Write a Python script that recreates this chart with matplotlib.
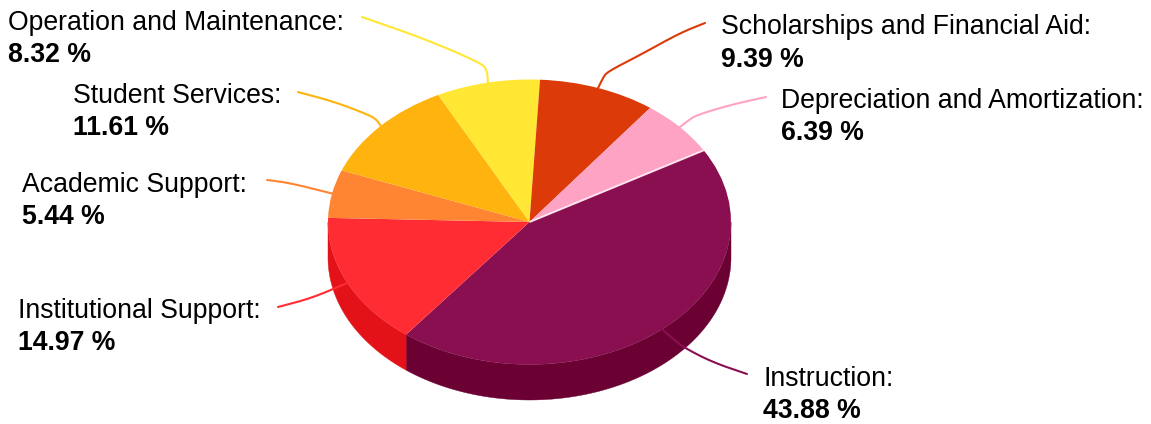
import numpy as np
import matplotlib
matplotlib.use("Agg")
import matplotlib.pyplot as plt
from matplotlib.transforms import Affine2D

categories = ["Instruction", "Institutional Support", "Academic Support", "Student Services",
              "Operation and Maintenance", "Scholarships and Financial Aid", "Depreciation and Amortization"]
values = [43.88, 14.97, 5.44, 11.61, 8.32, 9.39, 6.39]
top_colors = ["#8a0f50", "#ff2d33", "#ff8533", "#ffb30f", "#ffe733", "#dc3a09", "#ffa3c4"]
side_colors = ["#6b0033", "#e31218", "#e06a20", "#e09a00", "#e0c820", "#c03000", "#e08aa8"]
line_colors = ["#8a0f50", "#ff2d33", "#ff8533", "#ffb30f", "#ffe733", "#dc3a09", "#ffa3c4"]

W, H = 1151, 424
CX, CY, RX, RY, DEPTH = 529.5, 222.0, 201.5, 142.5, 35.5
START = 30.2

# label layout in pixels: x, first baseline, second baseline
label_pos = [(763, 386, 418), (18, 318, 350), (22, 192, 224), (73, 103, 135),
             (8, 30, 62), (721, 34, 67), (781, 108, 140)]
# leader waypoints in pixels, from the label outward to the pie
leaders = [
    [(747, 374), (712, 362), (683, 347), (672, 338)],
    [(278, 307), (312, 298), (347, 283)],
    [(267, 180), (290, 183)],
    [(298, 92), (335, 102), (369, 115), (377, 120)],
    [(362, 17), (425, 39), (481, 63), (487, 70)],
    [(705, 23), (680, 33), (640, 55), (607, 72), (603, 78)],
    [(766, 97), (730, 105), (697, 115), (689, 120)],
]


def smooth(points, rounds=2):
    pts = np.asarray(points, float)
    for _ in range(rounds):
        q = 0.75 * pts[:-1] + 0.25 * pts[1:]
        r = 0.25 * pts[:-1] + 0.75 * pts[1:]
        mid = np.empty((2 * len(q), 2))
        mid[0::2], mid[1::2] = q, r
        pts = np.vstack([pts[0], mid, pts[-1]])
    return pts


fig = plt.figure(figsize=(W / 100, H / 100), dpi=100)
ax = fig.add_axes([0, 0, 1, 1])
plt.rcParams["font.family"] = "Liberation Sans"
px = Affine2D().scale(1, -1).translate(0, H)

wedges, _ = ax.pie(values, colors=top_colors, startangle=START, counterclock=False, radius=1.0)
for w in wedges:
    w.set_zorder(5)
ax.set_aspect("auto")
ax.set_xlim(-CX / RX, (W - CX) / RX)
ax.set_ylim((CY - H) / RY, CY / RY)
ax.axis("off")

d = DEPTH / RY
edges = START - np.cumsum([0] + values) * 3.6
for i in range(len(values)):
    a0, a1 = edges[i], edges[i + 1]  # a0 > a1, clockwise
    # visible part of the rim is the front half, between -180 and 0 degrees
    for shift in (0, -360):
        l, h = max(a1 + shift, -180), min(a0 + shift, 0)
        if h > l:
            t = np.radians(np.linspace(l, h, 120))
            xs = np.concatenate([np.cos(t), np.cos(t[::-1])])
            ys = np.concatenate([np.sin(t), np.sin(t[::-1]) - d])
            ax.fill(xs, ys, color=side_colors[i], lw=0.3, zorder=2)

# pale seam between the last and first slices
sa = np.radians(START)
ax.plot([0, np.cos(sa)], [0, np.sin(sa)], color="#ffe3ee", lw=1.4, zorder=6, solid_capstyle="butt")

for i, (name, v) in enumerate(zip(categories, values)):
    mid = np.radians((edges[i] + edges[i + 1]) / 2)
    anchor = (CX + RX * 0.99 * np.cos(mid), CY - RY * 0.99 * np.sin(mid))
    pts = smooth(leaders[i] + [anchor])
    ax.plot(pts[:, 0], pts[:, 1], transform=px, color=line_colors[i], lw=1.5, zorder=3,
            solid_joinstyle="round", solid_capstyle="round", clip_on=False)
    x, y1, y2 = label_pos[i]
    ax.text(x, y1, f"{name}:", transform=px, fontsize=19.2, va="baseline", ha="left", color="black")
    ax.text(x, y2, f"{v:.2f} %", transform=px, fontsize=19.2, fontweight="bold", va="baseline", ha="left", color="black")

fig.savefig("out.png", dpi=100, facecolor="white")
